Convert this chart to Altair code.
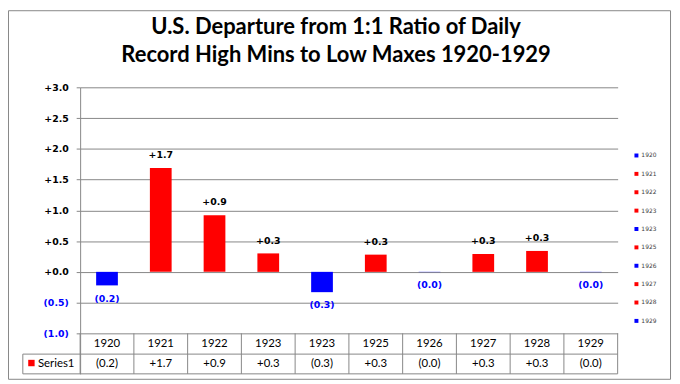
import json
import altair as alt
import pandas as pd

categories = ["1920", "1921", "1922", "1923", "1923", "1925", "1926", "1927", "1928", "1929"]
values = [-0.22, 1.69, 0.92, 0.30, -0.33, 0.28, -0.004, 0.29, 0.34, -0.004]
y_ticks = [3.0, 2.5, 2.0, 1.5, 1.0, 0.5, 0.0, -0.5, -1.0]
series_name = "Series1"
title_lines = ["U.S. Departure from 1:1 Ratio of Daily",
               "Record High Mins to Low Maxes 1920-1929"]

RED = "#FF0000"
BLUE = "#0000FF"
GRID = "#868686"
LABEL_FONT = "DejaVu Sans"
TABLE_FONT = "Lato"

# table rows (in data units on the y scale, below the axis)
Y_TOP = 3.0
Y_AX = -1.0
ROW1 = -1.337
ROW2 = -1.658
HDR_Y = -1.169
SER_Y = -1.498

idx = list(range(len(categories)))
colors = [RED if v >= 0 else BLUE for v in values]


def fmt(v):
    return f"+{v:.1f}" if v >= 0 else f"({abs(v):.1f})"


thin = "\u2009"
yaxis = alt.Axis(
    values=y_ticks, grid=True, gridColor=GRID, domainColor=GRID, tickColor=GRID,
    tickSize=4, labelPadding=8, labelFont=LABEL_FONT, labelFontSize=9.5,
    labelFontWeight="bold", title=None, labelOverlap=False, labelFlush=False,
    labelExpr="datum.value >= 0 ? '+' + format(datum.value, '.1f') + '" + thin +
              "' : '(' + format(-datum.value, '.1f') + ')'",
    labelColor={"expr": "datum.value < 0 ? '#0000FF' : '#000000'"},
)
yscale = alt.Scale(domain=[ROW2, Y_TOP], nice=False, zero=False)


def ydat(v):
    return alt.YDatum(v, axis=yaxis, scale=yscale)


df = pd.DataFrame({"idx": idx, "cat": categories, "value": values,
                   "lab": [fmt(v) for v in values]})
one = pd.DataFrame({"name": [series_name]})
last = df[df.idx == idx[-1]]
tdf = pd.DataFrame({"t": title_lines, "line": [0, 1]})

xscale = alt.Scale(domain=idx, paddingInner=0, paddingOuter=0)
X = alt.X("idx:O", scale=xscale, axis=None)
Y = alt.Y("value:Q", scale=yscale, axis=yaxis)

label_expr = json.dumps(categories) + "[datum.value]"
legend = alt.Legend(
    orient="none", legendX=560, legendY=66, title=None, symbolType="square",
    symbolSize=16, symbolStrokeWidth=0, labelFont=LABEL_FONT, labelFontSize=6,
    labelColor="#404040", rowPadding=12.6, padding=0, labelOffset=2,
    labelExpr=label_expr,
)

base = alt.Chart(df)

bars = base.mark_bar(size=22).encode(
    x=X, y=Y,
    color=alt.Color("idx:O", scale=alt.Scale(domain=idx, range=colors), legend=legend),
)

pos_labels = base.transform_filter("datum.value >= 0").mark_text(
    baseline="bottom", dy=-8, font=LABEL_FONT, fontSize=9.5, fontWeight="bold", color="black"
).encode(x=X, y=Y, text="lab:N")

neg_labels = base.transform_filter("datum.value < 0").mark_text(
    baseline="top", dy=8.5, font=LABEL_FONT, fontSize=9.5, fontWeight="bold", color=BLUE
).encode(x=X, y=Y, text="lab:N")

# data table
vlines = base.mark_rule(color=GRID).encode(
    x=alt.X("idx:O", scale=xscale, axis=None, bandPosition=0),
    y=ydat(Y_AX), y2=alt.datum(ROW2))
vlast = alt.Chart(last).mark_rule(color=GRID).encode(
    x=alt.X("idx:O", scale=xscale, axis=None, bandPosition=1),
    y=ydat(Y_AX), y2=alt.datum(ROW2))
h1 = alt.Chart(one).mark_rule(color=GRID).encode(
    x=alt.value(-58), x2=alt.value(544), y=ydat(ROW1))
h2 = alt.Chart(one).mark_rule(color=GRID).encode(
    x=alt.value(-58), x2=alt.value(544), y=ydat(ROW2))
vleft = alt.Chart(one).mark_rule(color=GRID).encode(
    x=alt.value(-58), y=ydat(ROW1), y2=alt.datum(ROW2))

hdr_text = base.mark_text(font=TABLE_FONT, fontSize=11.5, color="black").encode(
    x=X, y=ydat(HDR_Y), text="cat:N")
ser_text = base.mark_text(font=TABLE_FONT, fontSize=11.5, color="black").encode(
    x=X, y=ydat(SER_Y), text="lab:N")
ser_key = alt.Chart(one).mark_square(size=42, color=RED, opacity=1).encode(
    x=alt.value(-49.3), y=ydat(-1.482))
ser_name = alt.Chart(one).mark_text(align="left", font=TABLE_FONT, fontSize=11.5, color="black").encode(
    x=alt.value(-42.7), y=ydat(SER_Y), text="name:N")

# chart title (two lines), placed above the plot
title1 = alt.Chart(tdf).transform_filter("datum.line == 0").mark_text(
    font=TABLE_FONT, fontSize=22.2, fontWeight="bold", color="black", baseline="middle"
).encode(x=alt.value(259), y=alt.value(-61), text="t:N")
title2 = alt.Chart(tdf).transform_filter("datum.line == 1").mark_text(
    font=TABLE_FONT, fontSize=22.2, fontWeight="bold", color="black", baseline="middle"
).encode(x=alt.value(259), y=alt.value(-33), text="t:N")

border = alt.Chart(one).mark_rect(fill="transparent", stroke=GRID, strokeWidth=1).encode(
    x=alt.value(-72.5), x2=alt.value(597.5), y=alt.value(-77.5), y2=alt.value(295.5))

chart = alt.layer(
    bars, pos_labels, neg_labels, vlines, vlast, h1, h2, vleft,
    hdr_text, ser_text, ser_key, ser_name, title1, title2, border,
).properties(
    width=544, height=290,
    autosize=alt.AutoSizeParams(type="none"),
    padding={"left": 73, "top": 78, "right": 55, "bottom": 8},
    background="white",
).configure_view(strokeWidth=0)

chart.save("out.html", embed_options={"renderer": "svg", "actions": False})
